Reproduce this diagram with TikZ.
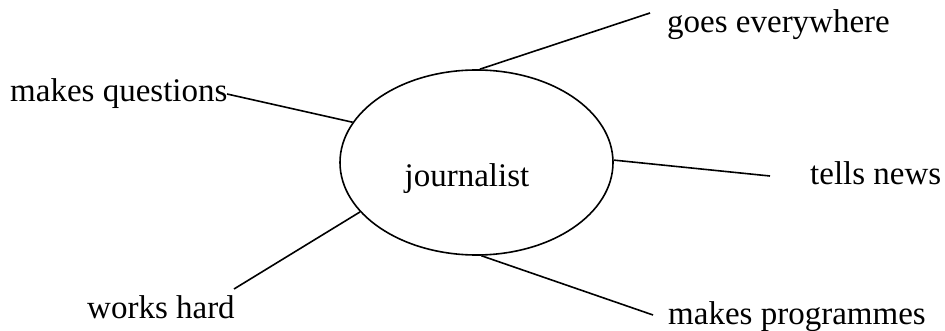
\documentclass[tikz,border=0pt]{standalone}
\usepackage{fontspec}
\setmainfont{Liberation Serif}
\usetikzlibrary{shapes.geometric}
\begin{document}
\begin{tikzpicture}[x=1pt,y=-1pt,
  lbl/.style={anchor=base west,inner sep=0pt,font=\fontsize{33}{38}\selectfont},
  conn/.style={draw=black,line width=1.6pt},
  bubble/.style={ellipse,draw=black,line width=1.6pt,minimum width=273pt,minimum height=185pt,inner sep=0pt}]
\useasboundingbox (0,0) rectangle (945,331);
\node[bubble] (j) at (476.5,162.5) {};
\node[lbl,anchor=base] (jt) at (467,187) {journalist};
\node[lbl] (q) at (10,102) {makes questions};
\node[lbl] (g) at (667,33) {goes everywhere};
\node[lbl] (t) at (810,185) {tells news};
\node[lbl] (w) at (87,318) {works hard};
\node[lbl] (p) at (668,324) {makes programmes};
\coordinate (qe) at (227,94);
\coordinate (ge) at (650,13);
\coordinate (te) at (770,176);
\coordinate (we) at (234,289);
\coordinate (pe) at (653,315);
\draw[conn] (qe) -- (j.162.3);
\draw[conn] (j.88) -- (ge);
\draw[conn] (j.1) -- (te);
\draw[conn] (j.203.3) -- (we);
\draw[conn] (j.273.4) -- (pe);
\end{tikzpicture}
\end{document}
